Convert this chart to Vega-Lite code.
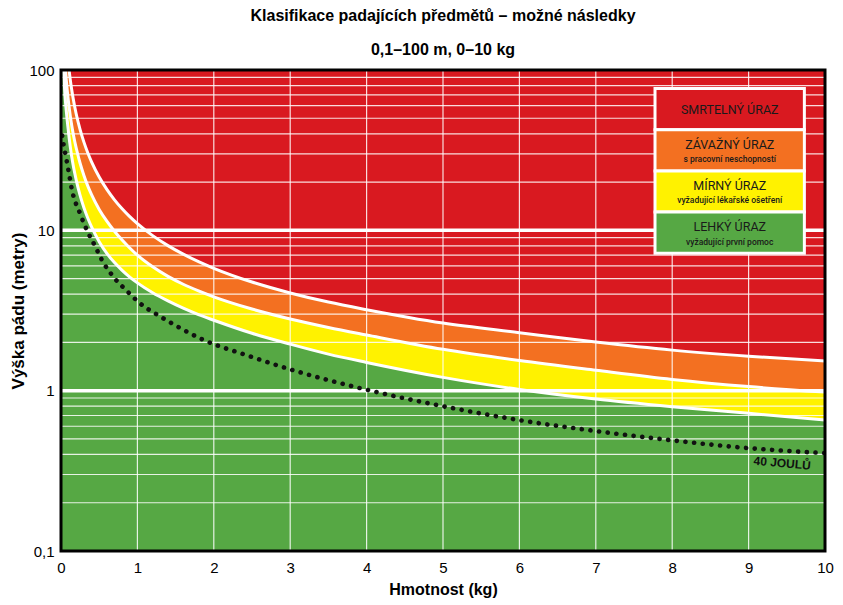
{
  "$schema": "https://vega.github.io/schema/vega-lite/v6.json",
  "width": 764,
  "height": 481,
  "autosize": {"type": "none"},
  "padding": {"left": 61, "top": 70, "right": 18, "bottom": 54},
  "background": "white",
  "config": {
    "view": {"stroke": null, "fill": "#D91920"},
    "axis": {"labelFont": "Liberation Sans Narrow, Liberation Sans, sans-serif", "titleFont": "Liberation Sans, sans-serif", "labelColor": "#000", "titleColor": "#000"},
    "text": {"font": "Roboto, sans-serif", "color": "#1a1a1a", "baseline": "middle"}
  },
  "title": {
    "text": "Klasifikace padajících předmětů – možné následky",
    "subtitle": "0,1–100 m, 0–10 kg",
    "font": "Liberation Sans, sans-serif",
    "subtitleFont": "Liberation Sans, sans-serif",
    "fontSize": 16,
    "subtitleFontSize": 16,
    "fontWeight": "bold",
    "subtitleFontWeight": "bold",
    "color": "#000",
    "subtitleColor": "#000",
    "anchor": "middle",
    "offset": 5,
    "subtitlePadding": 18
  },
  "datasets": {
    "hranice": [
      {"hranice": "horni", "m": 0, "h": 1000},
      {"hranice": "horni", "m": 0.06, "h": 175.5},
      {"hranice": "horni", "m": 0.08, "h": 131.8},
      {"hranice": "horni", "m": 0.1, "h": 105.5},
      {"hranice": "horni", "m": 0.12, "h": 88},
      {"hranice": "horni", "m": 0.14, "h": 75.5},
      {"hranice": "horni", "m": 0.16, "h": 66.1},
      {"hranice": "horni", "m": 0.18, "h": 58.8},
      {"hranice": "horni", "m": 0.2, "h": 53},
      {"hranice": "horni", "m": 0.25, "h": 42.5},
      {"hranice": "horni", "m": 0.3, "h": 35.5},
      {"hranice": "horni", "m": 0.35, "h": 30.5},
      {"hranice": "horni", "m": 0.4, "h": 26.75},
      {"hranice": "horni", "m": 0.5, "h": 21.5},
      {"hranice": "horni", "m": 0.6, "h": 18},
      {"hranice": "horni", "m": 0.7, "h": 15.5},
      {"hranice": "horni", "m": 0.8, "h": 13.63},
      {"hranice": "horni", "m": 0.9, "h": 12.17},
      {"hranice": "horni", "m": 1.0, "h": 11.0},
      {"hranice": "horni", "m": 1.2, "h": 9.27},
      {"hranice": "horni", "m": 1.4, "h": 8.03},
      {"hranice": "horni", "m": 1.6, "h": 7.1},
      {"hranice": "horni", "m": 1.8, "h": 6.38},
      {"hranice": "horni", "m": 2.0, "h": 5.8},
      {"hranice": "horni", "m": 2.5, "h": 4.76},
      {"hranice": "horni", "m": 3, "h": 4.07},
      {"hranice": "horni", "m": 3.5, "h": 3.57},
      {"hranice": "horni", "m": 4, "h": 3.2},
      {"hranice": "horni", "m": 5, "h": 2.64},
      {"hranice": "horni", "m": 6, "h": 2.3},
      {"hranice": "horni", "m": 7, "h": 2.01},
      {"hranice": "horni", "m": 8, "h": 1.79},
      {"hranice": "horni", "m": 9, "h": 1.64},
      {"hranice": "horni", "m": 10, "h": 1.53},
      {"hranice": "stredni", "m": 0, "h": 1000},
      {"hranice": "stredni", "m": 0.04, "h": 142.5},
      {"hranice": "stredni", "m": 0.05, "h": 116},
      {"hranice": "stredni", "m": 0.06, "h": 98.3},
      {"hranice": "stredni", "m": 0.07, "h": 85.7},
      {"hranice": "stredni", "m": 0.08, "h": 76},
      {"hranice": "stredni", "m": 0.09, "h": 68.3},
      {"hranice": "stredni", "m": 0.1, "h": 62},
      {"hranice": "stredni", "m": 0.12, "h": 52.3},
      {"hranice": "stredni", "m": 0.14, "h": 45.2},
      {"hranice": "stredni", "m": 0.16, "h": 40},
      {"hranice": "stredni", "m": 0.18, "h": 35.8},
      {"hranice": "stredni", "m": 0.2, "h": 32.5},
      {"hranice": "stredni", "m": 0.25, "h": 26.2},
      {"hranice": "stredni", "m": 0.3, "h": 22},
      {"hranice": "stredni", "m": 0.35, "h": 18.94},
      {"hranice": "stredni", "m": 0.4, "h": 16.7},
      {"hranice": "stredni", "m": 0.5, "h": 13.5},
      {"hranice": "stredni", "m": 0.6, "h": 11.4},
      {"hranice": "stredni", "m": 0.7, "h": 9.87},
      {"hranice": "stredni", "m": 0.8, "h": 8.69},
      {"hranice": "stredni", "m": 0.9, "h": 7.76},
      {"hranice": "stredni", "m": 1.0, "h": 7.0},
      {"hranice": "stredni", "m": 1.2, "h": 5.92},
      {"hranice": "stredni", "m": 1.4, "h": 5.16},
      {"hranice": "stredni", "m": 1.6, "h": 4.61},
      {"hranice": "stredni", "m": 1.8, "h": 4.19},
      {"hranice": "stredni", "m": 2.0, "h": 3.85},
      {"hranice": "stredni", "m": 2.5, "h": 3.23},
      {"hranice": "stredni", "m": 3, "h": 2.8},
      {"hranice": "stredni", "m": 3.5, "h": 2.48},
      {"hranice": "stredni", "m": 4, "h": 2.225},
      {"hranice": "stredni", "m": 5, "h": 1.81},
      {"hranice": "stredni", "m": 6, "h": 1.54},
      {"hranice": "stredni", "m": 7, "h": 1.34},
      {"hranice": "stredni", "m": 8, "h": 1.175},
      {"hranice": "stredni", "m": 9, "h": 1.06},
      {"hranice": "stredni", "m": 10, "h": 0.98},
      {"hranice": "dolni", "m": 0, "h": 1000},
      {"hranice": "dolni", "m": 0.02, "h": 155},
      {"hranice": "dolni", "m": 0.03, "h": 110},
      {"hranice": "dolni", "m": 0.04, "h": 86.8},
      {"hranice": "dolni", "m": 0.05, "h": 72},
      {"hranice": "dolni", "m": 0.06, "h": 62.2},
      {"hranice": "dolni", "m": 0.07, "h": 55},
      {"hranice": "dolni", "m": 0.08, "h": 49.1},
      {"hranice": "dolni", "m": 0.09, "h": 44.4},
      {"hranice": "dolni", "m": 0.1, "h": 40.1},
      {"hranice": "dolni", "m": 0.12, "h": 33.6},
      {"hranice": "dolni", "m": 0.14, "h": 28.9},
      {"hranice": "dolni", "m": 0.16, "h": 25.4},
      {"hranice": "dolni", "m": 0.18, "h": 22.7},
      {"hranice": "dolni", "m": 0.2, "h": 20.5},
      {"hranice": "dolni", "m": 0.25, "h": 16.5},
      {"hranice": "dolni", "m": 0.3, "h": 13.83},
      {"hranice": "dolni", "m": 0.35, "h": 11.94},
      {"hranice": "dolni", "m": 0.4, "h": 10.5},
      {"hranice": "dolni", "m": 0.5, "h": 8.5},
      {"hranice": "dolni", "m": 0.6, "h": 7.18},
      {"hranice": "dolni", "m": 0.7, "h": 6.29},
      {"hranice": "dolni", "m": 0.8, "h": 5.63},
      {"hranice": "dolni", "m": 0.9, "h": 5.11},
      {"hranice": "dolni", "m": 1.0, "h": 4.7},
      {"hranice": "dolni", "m": 1.2, "h": 4.08},
      {"hranice": "dolni", "m": 1.4, "h": 3.63},
      {"hranice": "dolni", "m": 1.6, "h": 3.27},
      {"hranice": "dolni", "m": 1.8, "h": 2.98},
      {"hranice": "dolni", "m": 2.0, "h": 2.75},
      {"hranice": "dolni", "m": 2.5, "h": 2.28},
      {"hranice": "dolni", "m": 3, "h": 1.95},
      {"hranice": "dolni", "m": 3.5, "h": 1.69},
      {"hranice": "dolni", "m": 4, "h": 1.5},
      {"hranice": "dolni", "m": 5, "h": 1.21},
      {"hranice": "dolni", "m": 6, "h": 1.017},
      {"hranice": "dolni", "m": 7, "h": 0.886},
      {"hranice": "dolni", "m": 8, "h": 0.794},
      {"hranice": "dolni", "m": 9, "h": 0.722},
      {"hranice": "dolni", "m": 10, "h": 0.655}
    ],
    "joule40": [
      {"m": 0.015, "h": 39},
      {"m": 0.035, "h": 34},
      {"m": 0.057, "h": 30},
      {"m": 0.08, "h": 26.3},
      {"m": 0.1, "h": 23.3},
      {"m": 0.14, "h": 18.2},
      {"m": 0.25, "h": 12.7},
      {"m": 0.34, "h": 10},
      {"m": 0.45, "h": 7.9},
      {"m": 0.53, "h": 6.6},
      {"m": 0.69, "h": 5.1},
      {"m": 0.86, "h": 4.2},
      {"m": 1.02, "h": 3.55},
      {"m": 1.3, "h": 2.9},
      {"m": 1.5, "h": 2.55},
      {"m": 1.82, "h": 2.12},
      {"m": 2.47, "h": 1.64},
      {"m": 3.04, "h": 1.34},
      {"m": 3.94, "h": 1.03},
      {"m": 5, "h": 0.8},
      {"m": 6, "h": 0.655},
      {"m": 7, "h": 0.56},
      {"m": 8, "h": 0.49},
      {"m": 9, "h": 0.438},
      {"m": 10, "h": 0.408}
    ],
    "hminor": [
      {"h": 0.2}, {"h": 0.3}, {"h": 0.4}, {"h": 0.5}, {"h": 0.6}, {"h": 0.7}, {"h": 0.8}, {"h": 0.9},
      {"h": 2}, {"h": 3}, {"h": 4}, {"h": 5}, {"h": 6}, {"h": 7}, {"h": 8}, {"h": 9},
      {"h": 20}, {"h": 30}, {"h": 40}, {"h": 50}, {"h": 60}, {"h": 70}, {"h": 80}, {"h": 90}
    ],
    "hmajor": [{"h": 1}, {"h": 10}],
    "vgrid": [{"m": 1}, {"m": 2}, {"m": 3}, {"m": 4}, {"m": 5}, {"m": 6}, {"m": 7}, {"m": 8}, {"m": 9}],
    "legenda": [
      {"trida": "SMRTELNÝ ÚRAZ", "popis": ""},
      {"trida": "ZÁVAŽNÝ ÚRAZ", "popis": "s pracovní neschopností"},
      {"trida": "MÍRNÝ ÚRAZ", "popis": "vyžadující lékařské ošetření"},
      {"trida": "LEHKÝ ÚRAZ", "popis": "vyžadující první pomoc"}
    ]
  },
  "layer": [
    {
      "data": {"name": "hranice"},
      "transform": [{"filter": "datum.hranice == 'horni'"}],
      "mark": {"type": "area", "color": "#F37021", "interpolate": "monotone", "clip": true},
      "encoding": {
        "x": {"field": "m", "type": "quantitative", "scale": {"domain": [0, 10], "nice": false},
          "axis": {"title": "Hmotnost (kg)", "values": [0, 1, 2, 3, 4, 5, 6, 7, 8, 9, 10], "format": "d", "grid": false, "ticks": false, "tickSize": 0, "domain": false, "labelFlush": false, "labelPadding": 9, "labelFontSize": 15, "titleFontSize": 16, "titleFontWeight": "bold", "titlePadding": 6}},
        "y": {"field": "h", "type": "quantitative", "scale": {"type": "log", "domain": [0.1, 100], "nice": false},
          "axis": {"title": "Výška pádu (metry)", "values": [0.1, 1, 10, 100], "labelExpr": "replace(format(datum.value, '~g'), '.', ',')", "grid": false, "ticks": false, "tickSize": 0, "domain": false, "labelPadding": 7, "labelFontSize": 15, "titleFontSize": 17, "titleFontWeight": "bold", "titlePadding": 1}},
        "y2": {"datum": 0.1}
      }
    },
    {
      "data": {"name": "hranice"},
      "transform": [{"filter": "datum.hranice == 'stredni'"}],
      "mark": {"type": "area", "color": "#FFF200", "interpolate": "monotone", "clip": true},
      "encoding": {
        "x": {"field": "m", "type": "quantitative"},
        "y": {"field": "h", "type": "quantitative"},
        "y2": {"datum": 0.1}
      }
    },
    {
      "data": {"name": "hranice"},
      "transform": [{"filter": "datum.hranice == 'dolni'"}],
      "mark": {"type": "area", "color": "#56A844", "interpolate": "monotone", "clip": true},
      "encoding": {
        "x": {"field": "m", "type": "quantitative"},
        "y": {"field": "h", "type": "quantitative"},
        "y2": {"datum": 0.1}
      }
    },
    {
      "data": {"name": "hminor"},
      "mark": {"type": "rule", "color": "white", "strokeWidth": 1.2, "opacity": 0.85},
      "encoding": {"y": {"field": "h", "type": "quantitative"}}
    },
    {
      "data": {"name": "vgrid"},
      "mark": {"type": "rule", "color": "white", "strokeWidth": 1.2, "opacity": 0.85},
      "encoding": {"x": {"field": "m", "type": "quantitative"}}
    },
    {
      "data": {"name": "hmajor"},
      "mark": {"type": "rule", "color": "white", "strokeWidth": 3.5},
      "encoding": {"y": {"field": "h", "type": "quantitative"}}
    },
    {
      "data": {"name": "hranice"},
      "mark": {"type": "line", "color": "white", "strokeWidth": 3, "interpolate": "monotone", "clip": true},
      "encoding": {
        "x": {"field": "m", "type": "quantitative"},
        "y": {"field": "h", "type": "quantitative"},
        "detail": {"field": "hranice"}
      }
    },
    {
      "data": {"name": "joule40"},
      "mark": {"type": "line", "color": "#111111", "strokeWidth": 4.6, "strokeCap": "round", "strokeDash": [0.1, 8.6], "interpolate": "monotone", "clip": true},
      "encoding": {
        "x": {"field": "m", "type": "quantitative"},
        "y": {"field": "h", "type": "quantitative"}
      }
    },
    {
      "data": {"values": [{}]},
      "mark": {"type": "text", "text": "40 JOULŮ", "font": "Liberation Sans, sans-serif", "fontWeight": "bold", "fontSize": 12, "angle": 5, "color": "#111111"},
      "encoding": {"x": {"datum": 9.44}, "y": {"datum": 0.353}}
    },
    {
      "data": {"values": [{}]},
      "mark": {"type": "rect", "filled": false, "stroke": "black", "strokeWidth": 3, "clip": false},
      "encoding": {"x": {"datum": 0}, "x2": {"datum": 10}, "y": {"datum": 0.1}, "y2": {"datum": 100}}
    },
    {
      "data": {"name": "legenda"},
      "transform": [{"filter": "datum.trida == 'SMRTELNÝ ÚRAZ'"}],
      "layer": [
        {"mark": {"type": "rect", "fill": "#D91920", "stroke": "white", "strokeWidth": 3},
         "encoding": {"x": {"datum": 7.775}, "x2": {"datum": 9.73}, "y": {"datum": 76.7}, "y2": {"datum": 42.4}}},
        {"mark": {"type": "text", "fontSize": 12.5, "dy": 0.5},
         "encoding": {"x": {"datum": 8.753}, "y": {"datum": 57.0}, "text": {"field": "trida"}}}
      ]
    },
    {
      "data": {"name": "legenda"},
      "transform": [{"filter": "datum.trida == 'ZÁVAŽNÝ ÚRAZ'"}],
      "layer": [
        {"mark": {"type": "rect", "fill": "#F37021", "stroke": "white", "strokeWidth": 3},
         "encoding": {"x": {"datum": 7.775}, "x2": {"datum": 9.73}, "y": {"datum": 42.4}, "y2": {"datum": 23.48}}},
        {"mark": {"type": "text", "fontSize": 12.5, "dy": -5.5},
         "encoding": {"x": {"datum": 8.753}, "y": {"datum": 31.56}, "text": {"field": "trida"}}},
        {"mark": {"type": "text", "fontSize": 8.5, "fontWeight": 500, "dy": 9},
         "encoding": {"x": {"datum": 8.753}, "y": {"datum": 31.56}, "text": {"field": "popis"}}}
      ]
    },
    {
      "data": {"name": "legenda"},
      "transform": [{"filter": "datum.trida == 'MÍRNÝ ÚRAZ'"}],
      "layer": [
        {"mark": {"type": "rect", "fill": "#FFF200", "stroke": "white", "strokeWidth": 3},
         "encoding": {"x": {"datum": 7.775}, "x2": {"datum": 9.73}, "y": {"datum": 23.48}, "y2": {"datum": 12.99}}},
        {"mark": {"type": "text", "fontSize": 12.5, "dy": -5.5},
         "encoding": {"x": {"datum": 8.753}, "y": {"datum": 17.46}, "text": {"field": "trida"}}},
        {"mark": {"type": "text", "fontSize": 8.5, "fontWeight": 500, "dy": 8.5},
         "encoding": {"x": {"datum": 8.753}, "y": {"datum": 17.46}, "text": {"field": "popis"}}}
      ]
    },
    {
      "data": {"name": "legenda"},
      "transform": [{"filter": "datum.trida == 'LEHKÝ ÚRAZ'"}],
      "layer": [
        {"mark": {"type": "rect", "fill": "#56A844", "stroke": "white", "strokeWidth": 3},
         "encoding": {"x": {"datum": 7.775}, "x2": {"datum": 9.73}, "y": {"datum": 12.99}, "y2": {"datum": 7.19}}},
        {"mark": {"type": "text", "fontSize": 12.5, "dy": -6},
         "encoding": {"x": {"datum": 8.753}, "y": {"datum": 9.665}, "text": {"field": "trida"}}},
        {"mark": {"type": "text", "fontSize": 8.5, "fontWeight": 500, "dy": 9},
         "encoding": {"x": {"datum": 8.753}, "y": {"datum": 9.665}, "text": {"field": "popis"}}}
      ]
    }
  ]
}
